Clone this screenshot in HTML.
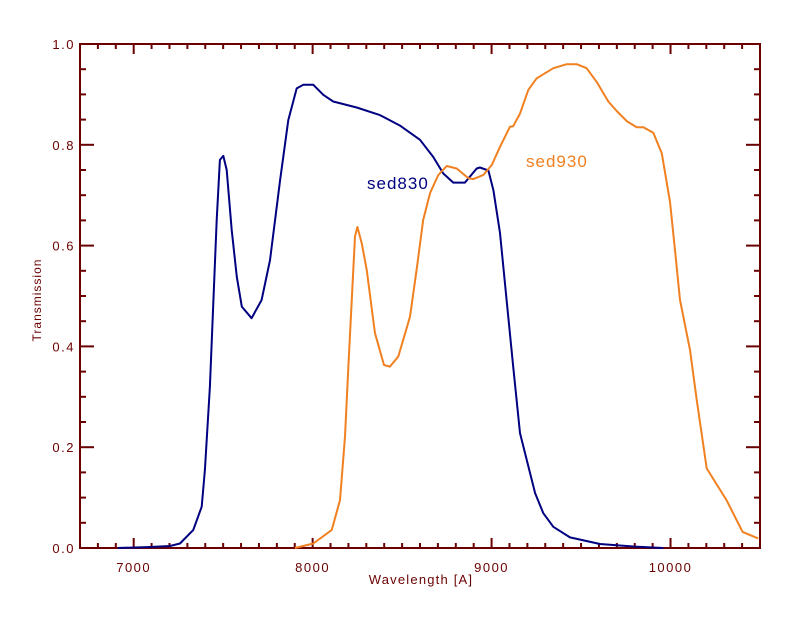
<!DOCTYPE html>
<html><head><meta charset="utf-8"><style>
html,body{margin:0;padding:0;background:#fff;}
svg{display:block;font-family:"Liberation Sans",sans-serif;}
</style></head><body>
<svg id="chart" width="800" height="640" viewBox="0 0 800 640" xmlns="http://www.w3.org/2000/svg">
<rect width="800" height="640" fill="#fff"/>
<g id="axes"></g>
<g id="series"></g>
<text x="367" y="189" font-size="17" letter-spacing="1" fill="#000080">sed830</text>
<text x="526" y="167" font-size="17" letter-spacing="1" fill="#f08020">sed930</text>
<text x="421" y="584" font-size="13" letter-spacing="1.2" fill="#6b0000" text-anchor="middle">Wavelength [A]</text>
<text x="41" y="300" font-size="12" letter-spacing="1" fill="#6b0000" text-anchor="middle" transform="rotate(-90 41 300)">Transmission</text>
</svg>
<script>
const xTickLabels = [7000, 8000, 9000, 10000];
const yTickLabels = ["0.0", "0.2", "0.4", "0.6", "0.8", "1.0"];
const sed830Wave = [6912,7091,7203,7259,7333,7380,7398,7426,7445,7464,7482,7501,7520,7548,7576,7604,7659,7715,7762,7818,7864,7911,7948,8004,8060,8115,8246,8376,8488,8600,8674,8730,8786,8851,8917,8935,8982,9010,9047,9084,9121,9159,9196,9243,9289,9345,9438,9606,9792,9960];
const sed830Trans = [0,0.002,0.004,0.009,0.036,0.082,0.155,0.32,0.486,0.651,0.77,0.778,0.75,0.631,0.538,0.479,0.456,0.492,0.571,0.73,0.849,0.912,0.919,0.919,0.899,0.886,0.874,0.859,0.838,0.81,0.776,0.743,0.725,0.725,0.753,0.755,0.749,0.71,0.625,0.492,0.36,0.228,0.175,0.109,0.069,0.042,0.021,0.008,0.003,0];
const sed930Wave = [7901,8004,8107,8153,8181,8199,8218,8237,8250,8274,8302,8348,8399,8432,8479,8544,8581,8618,8656,8702,8749,8805,8870,8898,8954,9001,9047,9103,9121,9159,9205,9252,9345,9420,9476,9531,9587,9652,9699,9755,9811,9848,9904,9951,9997,10025,10053,10109,10146,10202,10313,10403,10490];
const sed930Trans = [0,0.009,0.036,0.095,0.221,0.353,0.486,0.618,0.637,0.605,0.552,0.427,0.363,0.36,0.38,0.459,0.552,0.651,0.704,0.74,0.758,0.753,0.734,0.732,0.74,0.76,0.796,0.836,0.837,0.862,0.909,0.932,0.952,0.96,0.96,0.952,0.925,0.886,0.867,0.847,0.835,0.835,0.824,0.783,0.687,0.591,0.492,0.393,0.294,0.158,0.095,0.032,0.019];

const X0=80, X1=760, Y0=548, Y1=44, XMIN=6700, XMAX=10500;
const NS="http://www.w3.org/2000/svg";
const AX="#6b0000";
function sx(v){return X0+(v-XMIN)/(XMAX-XMIN)*(X1-X0);}
function sy(v){return Y0-(v-0)/(1-0)*(Y0-Y1);}
function mk(tag,attrs,parent){const e=document.createElementNS(NS,tag);for(const k in attrs)e.setAttribute(k,attrs[k]);parent.appendChild(e);return e;}
const axes=document.getElementById('axes');
const frame=mk('rect',{x:X0,y:Y1,width:X1-X0,height:Y0-Y1,fill:'none',stroke:AX,'stroke-width':2},axes);


for(let w=6800; w<=XMAX; w+=100){
  const major=(w%1000===0);const L=major?10:5;const x=sx(w);
  const t1=mk('line',{x1:x,x2:x,y1:Y0,y2:Y0-L,stroke:AX,'stroke-width':2},axes);
  
  
  const t2=mk('line',{x1:x,x2:x,y1:Y1,y2:Y1+L,stroke:AX,'stroke-width':2},axes);
  
  
}
xTickLabels.forEach(v=>{
  const t=mk('text',{x:sx(v),y:572,'font-size':13,'letter-spacing':1.5,fill:AX,'text-anchor':'middle'},axes);
  t.textContent=v;
  
  
});
for(let i=1;i<20;i++){
  const v=i*0.05;const major=(i%4===0);const L=major?14:6;const y=sy(v);
  const t1=mk('line',{x1:X0,x2:X0+L,y1:y,y2:y,stroke:AX,'stroke-width':2},axes);
  
  
  const t2=mk('line',{x1:X1,x2:X1-L,y1:y,y2:y,stroke:AX,'stroke-width':2},axes);
  
  
}
yTickLabels.forEach(s=>{
  const t=mk('text',{x:75,y:sy(parseFloat(s))+5,'font-size':13,'letter-spacing':1.5,fill:AX,'text-anchor':'end'},axes);
  t.textContent=s;
  
  
});
const series=document.getElementById('series');
function drawLine(W,T,color,name){
  const d=W.map((w,i)=>(i?'L':'M')+sx(w).toFixed(1)+','+sy(T[i]).toFixed(1)).join(' ');
  const p=mk('path',{d:d,fill:'none',stroke:color,'stroke-width':2,'stroke-linejoin':'round'},series);
  
  
}
drawLine(sed830Wave,sed830Trans,'#000080','line-sed830');
drawLine(sed930Wave,sed930Trans,'#f08020','line-sed930');
</script>
</body></html>
